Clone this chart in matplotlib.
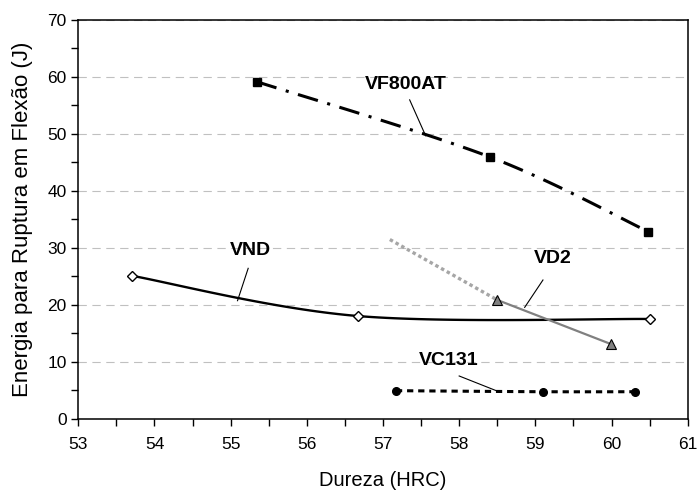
import numpy as np
import matplotlib
matplotlib.use("Agg")
import matplotlib.pyplot as plt
from matplotlib.ticker import MultipleLocator

plt.rcParams['font.family'] = ['Liberation Sans', 'DejaVu Sans']
plt.rcParams['lines.scale_dashes'] = False

# ---- data ----
vf800at_x = [55.34, 58.40, 60.48]
vf800at_y = [59.1, 45.9, 32.8]

vnd_x = [53.70, 56.67, 60.51]
vnd_y = [25.05, 17.98, 17.46]

vd2_x = [58.50, 59.99]
vd2_y = [20.8, 13.07]
vd2_ext_x = [57.09, 58.50]
vd2_ext_y = [31.4, 20.8]

vc131_x = [57.17, 59.10, 60.31]
vc131_y = [4.88, 4.70, 4.70]

labels = ["VF800AT", "VND", "VD2", "VC131"]
xlabel = "Dureza (HRC)"
ylabel = "Energia para Ruptura em Flexão (J)"


def smooth(xs, ys, n=40):
    """Excel-like smoothed line (Catmull-Rom / Bezier through data points)."""
    P = np.column_stack([xs, ys]).astype(float)
    if len(P) < 3:
        return P[:, 0], P[:, 1]
    out = []
    m = len(P)
    for i in range(m - 1):
        p0 = P[i - 1] if i > 0 else P[i]
        p1 = P[i]
        p2 = P[i + 1]
        p3 = P[i + 2] if i + 2 < m else P[i + 1]
        b1 = p1 + (p2 - p0) / 6.0
        b2 = p2 - (p3 - p1) / 6.0
        t = np.linspace(0, 1, n)[:, None]
        seg = ((1 - t) ** 3) * p1 + 3 * ((1 - t) ** 2) * t * b1 + 3 * (1 - t) * t ** 2 * b2 + t ** 3 * p2
        out.append(seg if i == 0 else seg[1:])
    S = np.vstack(out)
    return S[:, 0], S[:, 1]


fig = plt.figure(figsize=(7, 4.9), dpi=100)
ax = fig.add_axes([0.1119, 0.1459, 0.9824 - 0.1119, 0.9602 - 0.1459])

# gridlines
ax.set_axisbelow(True)
ax.yaxis.grid(True, which='major', color='#C0C0C0', linewidth=0.8, dashes=(6, 4))

# VF800AT
sx, sy = smooth(vf800at_x, vf800at_y)
ax.plot(sx, sy, color='black', linewidth=2.2, dashes=(15, 7, 2.2, 7), zorder=3)
ax.plot(vf800at_x, vf800at_y, linestyle='none', marker='s', markersize=5.5,
        color='black', zorder=4)

# VND
sx, sy = smooth(vnd_x, vnd_y)
ax.plot(sx, sy, color='black', linewidth=1.7, zorder=3)
ax.plot(vnd_x, vnd_y, linestyle='none', marker='D', markersize=5,
        markerfacecolor='white', markeredgecolor='black', markeredgewidth=1.0, zorder=4)

# VD2
ax.plot(vd2_ext_x, vd2_ext_y, color='#A6A6A6', linewidth=2.4, dashes=(2.5, 2.2), zorder=3)
ax.plot(vd2_x, vd2_y, color='#808080', linewidth=1.6, zorder=3)
ax.plot(vd2_x, vd2_y, linestyle='none', marker='^', markersize=7,
        markerfacecolor='#808080', markeredgecolor='black', markeredgewidth=0.8, zorder=4)

# VC131
sx, sy = smooth(vc131_x, vc131_y)
ax.plot(sx, sy, color='black', linewidth=2.2, dashes=(4.5, 3.5), zorder=3)
ax.plot(vc131_x, vc131_y, linestyle='none', marker='o', markersize=5.5,
        color='black', zorder=4)

# annotations (label text position, leader start, leader end)
ann = [
    (labels[0], (57.30, 58.6), (57.35, 55.9), (57.56, 49.6)),
    (labels[1], (55.26, 29.4), (55.23, 26.35), (55.09, 20.67)),
    (labels[2], (59.23, 28.1), (59.10, 24.3), (58.86, 19.5)),
    (labels[3], (57.86, 10.1), (58.00, 7.46), (58.54, 4.6)),
]
for txt, tp, ls, le in ann:
    ax.text(tp[0], tp[1], txt, ha='center', va='center', fontsize=14,
            fontweight='bold', zorder=5)
    ax.plot([ls[0], le[0]], [ls[1], le[1]], color='black', linewidth=0.8, zorder=5)

ax.set_xlim(53, 61)
ax.set_ylim(0, 70)
ax.xaxis.set_major_locator(MultipleLocator(1))
ax.xaxis.set_minor_locator(MultipleLocator(0.5))
ax.yaxis.set_major_locator(MultipleLocator(10))
ax.yaxis.set_minor_locator(MultipleLocator(5))
ax.tick_params(which='both', direction='out', length=5, width=1, color='black',
               labelsize=12.5)
ax.tick_params(axis='x', pad=8)
for s in ax.spines.values():
    s.set_linewidth(1.1)
    s.set_color('black')

ax.set_xlabel(xlabel, fontsize=14.5, labelpad=14)
ax.set_ylabel(ylabel, fontsize=16, labelpad=10)

fig.savefig("out.png", dpi=100)
